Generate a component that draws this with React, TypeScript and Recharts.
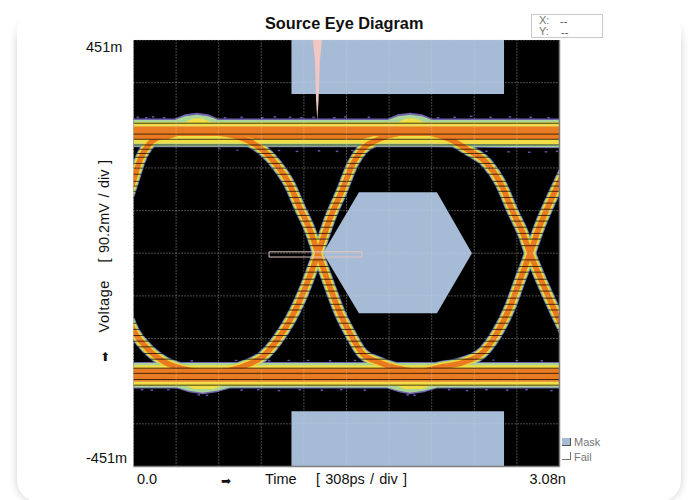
import React from 'react';
import { ComposedChart, Area, Line, Scatter, XAxis, YAxis, ReferenceLine, ReferenceArea } from 'recharts';

// time in ns, voltage in mV
const T_MAX = 3.08;
const V_MAX = 451;

const xTicks = [0, T_MAX];
const yTicks = [V_MAX, -V_MAX];
const gridT = [0, 0.308, 0.616, 0.924, 1.232, 1.54, 1.848, 2.156, 2.464, 2.772];
const gridV = [451, 360.8, 270.6, 180.4, 90.2, 0, -90.2, -180.4, -270.6, -360.8];

const traceA = [
  { t: -0.06, v: 101 }, { t: 0, v: 154 }, { t: 0.047, v: 197 }, { t: 0.119, v: 233 }, { t: 0.177, v: 245 }, { t: 0.3, v: 256 },
];
const traceB = [
  { t: 0.625, v: 254 }, { t: 0.792, v: 243 }, { t: 0.936, v: 218 }, { t: 1.038, v: 186 }, { t: 1.131, v: 144 }, { t: 1.204, v: 95 },
  { t: 1.276, v: 49 }, { t: 1.334, v: 0 }, { t: 1.421, v: -72 }, { t: 1.493, v: -127 }, { t: 1.565, v: -169 }, { t: 1.655, v: -212 },
  { t: 1.778, v: -231 }, { t: 1.876, v: -241 }, { t: 2.07, v: -252 },
];
const traceC = [
  { t: 0.625, v: -252 }, { t: 0.792, v: -239 }, { t: 0.936, v: -218 }, { t: 1.038, v: -184 }, { t: 1.131, v: -142 }, { t: 1.204, v: -99 }, { t: 1.29, v: -36 },
  { t: 1.334, v: 0 }, { t: 1.421, v: 74 }, { t: 1.508, v: 133 }, { t: 1.587, v: 190 }, { t: 1.655, v: 220 }, { t: 1.757, v: 239 }, { t: 1.927, v: 254 },
];
const traceD = [
  { t: -0.06, v: -121 }, { t: 0, v: -163 }, { t: 0.098, v: -201 }, { t: 0.213, v: -228 }, { t: 0.315, v: -241 }, { t: 0.48, v: -252 },
];
const traceE = [
  { t: 2.144, v: 254 }, { t: 2.303, v: 239 }, { t: 2.411, v: 220 }, { t: 2.556, v: 190 }, { t: 2.65, v: 150 }, { t: 2.744, v: 87 },
  { t: 2.816, v: 42 }, { t: 2.867, v: 0 }, { t: 2.917, v: -36 }, { t: 3.011, v: -99 }, { t: 3.12, v: -167 },
];
const traceF = [
  { t: 2.07, v: -252 }, { t: 2.216, v: -241 }, { t: 2.382, v: -231 }, { t: 2.527, v: -209 }, { t: 2.628, v: -169 }, { t: 2.722, v: -114 }, { t: 2.794, v: -57 },
  { t: 2.867, v: 0 }, { t: 2.939, v: 59 }, { t: 3.011, v: 108 }, { t: 3.12, v: 176 },
];
const traces = [traceA, traceB, traceC, traceD, traceE, traceF];

// top rail, outermost layer first
const topPurple = [
  { t: 0, range: [224, 285] }, { t: 0.3, range: [224, 285] }, { t: 0.372, range: [224, 294] }, { t: 0.459, range: [224, 297] },
  { t: 0.539, range: [224, 294] }, { t: 0.611, range: [224, 285] }, { t: 1.84, range: [224, 285] }, { t: 1.912, range: [224, 294] },
  { t: 2.0, range: [224, 297] }, { t: 2.086, range: [224, 294] }, { t: 2.158, range: [224, 285] }, { t: 3.08, range: [222, 285] },
];
const topGreen = [
  { t: 0, range: [226, 282] }, { t: 0.3, range: [226, 282] }, { t: 0.372, range: [226, 290] }, { t: 0.459, range: [226, 293] },
  { t: 0.539, range: [226, 290] }, { t: 0.611, range: [226, 282] }, { t: 1.84, range: [226, 282] }, { t: 1.912, range: [226, 290] },
  { t: 2.0, range: [226, 293] }, { t: 2.086, range: [226, 290] }, { t: 2.158, range: [226, 282] }, { t: 3.08, range: [224, 282] },
];
const topYellow = [
  { t: 0, range: [232, 277] }, { t: 0.372, range: [232, 277] }, { t: 0.43, range: [232, 285] }, { t: 0.5, range: [232, 285] },
  { t: 0.56, range: [232, 277] }, { t: 1.912, range: [232, 277] }, { t: 1.97, range: [232, 285] }, { t: 2.04, range: [232, 285] },
  { t: 2.1, range: [232, 277] }, { t: 3.08, range: [230, 277] },
];
const topOrange = [
  { t: 0, range: [241, 268] }, { t: 0.25, range: [241, 268] }, { t: 0.32, range: [248, 268] }, { t: 0.8, range: [248, 268] },
  { t: 0.88, range: [241, 268] }, { t: 1.65, range: [241, 268] }, { t: 1.74, range: [248, 268] }, { t: 2.22, range: [248, 268] },
  { t: 2.3, range: [241, 268] }, { t: 3.08, range: [241, 268] },
];

// bottom rail
const bottomPurple = [
  { t: 0, range: [-286, -230] }, { t: 0.315, range: [-286, -230] }, { t: 0.4, range: [-294, -230] }, { t: 0.5, range: [-298, -230] },
  { t: 0.6, range: [-294, -230] }, { t: 0.698, range: [-286, -230] }, { t: 1.833, range: [-286, -230] }, { t: 1.92, range: [-294, -230] },
  { t: 2.0, range: [-298, -230] }, { t: 2.1, range: [-294, -230] }, { t: 2.194, range: [-286, -230] }, { t: 3.08, range: [-286, -230] },
];
const bottomGreen = [
  { t: 0, range: [-284, -232] }, { t: 0.315, range: [-284, -232] }, { t: 0.4, range: [-291, -232] }, { t: 0.5, range: [-295, -232] },
  { t: 0.6, range: [-291, -232] }, { t: 0.698, range: [-284, -232] }, { t: 1.833, range: [-284, -232] }, { t: 1.92, range: [-291, -232] },
  { t: 2.0, range: [-295, -232] }, { t: 2.1, range: [-291, -232] }, { t: 2.194, range: [-284, -232] }, { t: 3.08, range: [-284, -232] },
];
const bottomYellow = [
  { t: 0, range: [-280, -237] }, { t: 0.38, range: [-280, -237] }, { t: 0.44, range: [-287, -237] }, { t: 0.58, range: [-287, -237] },
  { t: 0.64, range: [-280, -237] }, { t: 1.9, range: [-280, -237] }, { t: 1.96, range: [-287, -237] }, { t: 2.09, range: [-287, -237] },
  { t: 2.15, range: [-280, -237] }, { t: 3.08, range: [-280, -237] },
];
const bottomOrange = [
  { t: 0, range: [-272, -243] }, { t: 3.08, range: [-272, -243] },
];

// sampling noise round the rails
const specks = [
  { t: 0.03, v: 288 }, { t: 0.09, v: 287 }, { t: 0.14, v: 289 }, { t: 0.22, v: 287 }, { t: 0.66, v: 287 }, { t: 0.78, v: 288 },
  { t: 0.93, v: 287 }, { t: 1.02, v: 289 }, { t: 1.13, v: 288 }, { t: 1.21, v: 287 }, { t: 1.3, v: 288 }, { t: 1.45, v: 287 },
  { t: 1.53, v: 289 }, { t: 1.7, v: 288 }, { t: 2.2, v: 287 }, { t: 2.32, v: 288 }, { t: 2.44, v: 290 }, { t: 2.58, v: 288 },
  { t: 2.72, v: 289 }, { t: 2.87, v: 288 }, { t: 3.0, v: 287 },
  { t: 0.04, v: 220 }, { t: 0.62, v: 221 }, { t: 0.75, v: 219 }, { t: 1.05, v: 218 }, { t: 1.18, v: 216 }, { t: 1.34, v: 217 },
  { t: 1.47, v: 216 }, { t: 1.58, v: 218 }, { t: 2.42, v: 217 }, { t: 2.55, v: 216 }, { t: 2.71, v: 215 }, { t: 2.86, v: 214 },
  { t: 2.98, v: 215 }, { t: 3.06, v: 216 },
  { t: 0.42, v: -227 }, { t: 0.74, v: -226 }, { t: 0.85, v: -225 }, { t: 0.98, v: -227 }, { t: 1.12, v: -226 }, { t: 1.26, v: -226 },
  { t: 1.42, v: -227 }, { t: 1.6, v: -226 }, { t: 1.75, v: -225 }, { t: 2.45, v: -226 }, { t: 2.6, v: -225 }, { t: 2.77, v: -226 }, { t: 2.95, v: -227 },
  { t: 0.06, v: -288 }, { t: 0.13, v: -289 }, { t: 0.25, v: -288 }, { t: 0.78, v: -289 }, { t: 0.9, v: -288 }, { t: 1.05, v: -290 },
  { t: 1.2, v: -288 }, { t: 1.36, v: -289 }, { t: 1.5, v: -288 }, { t: 1.67, v: -289 }, { t: 2.28, v: -288 }, { t: 2.41, v: -290 },
  { t: 2.55, v: -288 }, { t: 2.7, v: -289 }, { t: 2.84, v: -288 }, { t: 3.02, v: -290 },
  { t: 0.47, v: -299 }, { t: 0.53, v: -300 }, { t: 1.98, v: -299 }, { t: 2.03, v: -300 },
];

// dark scan lines that run through the traces and rails
const scanV = [
  275, 252, 241, 229, 220, 211, 203, 190, 180, 167, 152, 142, 131, 118, 106, 93, 80, 68, 55, 42, 30, 16,
  -14, -28, -40, -55, -67, -80, -95, -108, -120, -135, -148, -161, -174, -186, -198, -212, -224, -243, -254, -267, -279,
];

const maskTop = [{ t: 1.142, range: [337, 451] }, { t: 2.679, range: [337, 451] }];
const maskBottom = [{ t: 1.142, range: [-451, -334] }, { t: 2.679, range: [-451, -334] }];
const maskHex = [
  { t: 1.37, range: [0, 0] }, { t: 1.63, range: [-127, 129] }, { t: 2.194, range: [-127, 129] }, { t: 2.447, range: [0, 0] },
];
const failSpike = [
  { t: 1.296, range: [451, 451] }, { t: 1.312, range: [408, 451] }, { t: 1.32, range: [323, 451] }, { t: 1.329, range: [281, 451] },
  { t: 1.338, range: [323, 451] }, { t: 1.348, range: [408, 451] }, { t: 1.363, range: [451, 451] },
];
const failBox = { t1: 0.98, t2: 1.652, v1: -8, v2: 3 };

const bandStyle: any = { stroke: 'none', fillOpacity: 1, dot: false, activeDot: false, isAnimationActive: false, type: 'linear', dataKey: 'range' };
const AXIS_FONT = { fontFamily: '"Liberation Sans", Arial, sans-serif', fontSize: 14.5, fill: '#111' };

function XTick({ x, y, payload }: any) {
  const isStart = payload.value === 0;
  return (
    <text x={isStart ? x + 3.5 : x - 30} y={y + 9.5} {...AXIS_FONT}>
      {isStart ? '0.0' : '3.08n'}
    </text>
  );
}

function YTick({ y, payload }: any) {
  const isTop = payload.value > 0;
  return (
    <text x={86} y={isTop ? y + 12 : y - 4} {...AXIS_FONT}>
      {isTop ? '451m' : '-451m'}
    </text>
  );
}

const font = '"Liberation Sans", Arial, sans-serif';
const abs = (left: number, top: number, extra: any = {}) => ({
  position: 'absolute' as const, left, top, fontFamily: font, whiteSpace: 'nowrap' as const, lineHeight: 1, ...extra,
});

export default function App() {
  return (
    <div style={{ position: 'absolute', left: 0, top: 0, width: 690, height: 500, overflow: 'hidden', background: '#fff' }}>
      <div style={{ position: 'absolute', left: 17, right: 9, top: 10, bottom: -2, background: '#fff', borderRadius: 22, boxShadow: '0 0 9px rgba(0,0,0,0.2)' }} />
      <div style={{ position: 'absolute', left: 0, right: 0, top: 0, height: 44, background: 'linear-gradient(#fff 45%, rgba(255,255,255,0))' }} />

      <div style={{ position: 'absolute', left: 0, top: 0 }}>
        <ComposedChart width={690} height={500} margin={{ top: 40, right: 130.5, bottom: 0, left: 0 }}>
          <XAxis
            type="number"
            dataKey="t"
            domain={[0, T_MAX]}
            ticks={xTicks}
            allowDataOverflow
            height={33.5}
            axisLine={false}
            tickLine={false}
            tick={<XTick />}
            interval={0}
          />
          <YAxis
            type="number"
            dataKey="v"
            domain={[-V_MAX, V_MAX]}
            ticks={yTicks}
            allowDataOverflow
            width={133.5}
            axisLine={false}
            tickLine={false}
            tick={<YTick />}
            interval={0}
          />
          <ReferenceArea x1={0} x2={T_MAX} y1={-V_MAX} y2={V_MAX} fill="#000" fillOpacity={1} stroke="none" zIndex={-50} />

          <Scatter
            data={specks}
            isAnimationActive={false}
            zIndex={90}
            shape={(p: any) => <rect x={p.cx - 1} y={p.cy - 0.5} width={2.5} height={1.5} fill="#6a50b0" />}
          />

          <Area {...bandStyle} data={topPurple} fill="#6f63ae" zIndex={110} />
          <Area {...bandStyle} data={bottomPurple} fill="#6f63ae" zIndex={110} />
          {traces.map((d, i) => (
            <Line key={`p${i}`} data={d} dataKey="v" type="monotone" stroke="#6f5fb0" strokeWidth={12} dot={false} activeDot={false} isAnimationActive={false} zIndex={111} />
          ))}
          <Area {...bandStyle} data={topGreen} fill="#a9d596" zIndex={120} />
          <Area {...bandStyle} data={bottomGreen} fill="#a9d596" zIndex={120} />
          {traces.map((d, i) => (
            <Line key={`g${i}`} data={d} dataKey="v" type="monotone" stroke="#93d08e" strokeWidth={10.5} dot={false} activeDot={false} isAnimationActive={false} zIndex={121} />
          ))}
          <Area {...bandStyle} data={topYellow} fill="#f1dd45" zIndex={130} />
          <Area {...bandStyle} data={bottomYellow} fill="#f1dd45" zIndex={130} />
          {traces.map((d, i) => (
            <Line key={`y${i}`} data={d} dataKey="v" type="monotone" stroke="#f2d63a" strokeWidth={8.5} dot={false} activeDot={false} isAnimationActive={false} zIndex={131} />
          ))}
          <Area {...bandStyle} data={topOrange} fill="#e97c22" zIndex={140} />
          <Area {...bandStyle} data={bottomOrange} fill="#e97c22" zIndex={140} />
          {traces.map((d, i) => (
            <Line key={`o${i}`} data={d} dataKey="v" type="monotone" stroke="#ea7a20" strokeWidth={5.5} dot={false} activeDot={false} isAnimationActive={false} zIndex={141} />
          ))}

          {scanV.map((v) => (
            <ReferenceLine key={`s${v}`} y={v} stroke="#000" strokeOpacity={0.7} strokeWidth={1} zIndex={150} />
          ))}

          <Area {...bandStyle} data={maskTop} fill="#a6bbd6" zIndex={160} />
          <Area {...bandStyle} data={maskBottom} fill="#a6bbd6" zIndex={160} />
          <Area {...bandStyle} data={maskHex} fill="#a6bbd6" zIndex={160} />
          <Area {...bandStyle} data={failSpike} fill="#f2c6c1" zIndex={165} />

          {gridT.map((t) => (
            <ReferenceLine key={`x${t}`} x={t} stroke="#cfcfcf" strokeOpacity={0.7} strokeDasharray="1 2" zIndex={170} />
          ))}
          {gridV.map((v) => (
            <ReferenceLine key={`h${v}`} y={v} stroke="#cfcfcf" strokeOpacity={0.7} strokeDasharray="1 2" zIndex={170} />
          ))}
          <ReferenceLine x={T_MAX} stroke="#808080" strokeWidth={1.5} zIndex={171} />
          <ReferenceLine y={-V_MAX} stroke="#808080" strokeWidth={1.5} zIndex={171} />
          <ReferenceArea x1={failBox.t1} x2={failBox.t2} y1={failBox.v1} y2={failBox.v2} fill="none" stroke="#e6c6be" strokeWidth={1} zIndex={180} />
        </ComposedChart>
      </div>

      <div style={abs(265, 15, { fontSize: 16.3, fontWeight: 700, color: '#111' })}>Source Eye Diagram</div>
      <div style={{ position: 'absolute', left: 531, top: 14, width: 70, height: 22, border: '1px solid #c9c9c9', boxSizing: 'content-box' }} />
      <div style={abs(539, 15, { fontSize: 11, color: '#777' })}>X:</div>
      <div style={abs(560, 16, { fontSize: 11, color: '#555' })}>--</div>
      <div style={abs(539, 26, { fontSize: 11, color: '#777' })}>Y:</div>
      <div style={abs(561, 27, { fontSize: 11, color: '#555' })}>--</div>

      <div style={abs(265, 472, { fontSize: 14.5, color: '#111' })}>Time</div>
      <div style={abs(316, 472, { fontSize: 14.5, color: '#111', wordSpacing: 1.2 })}>[ 308ps / div ]</div>
      <div style={abs(221, 475, { fontSize: 12, fontFamily: '"DejaVu Sans"', color: '#111' })}>➡</div>

      <div style={{ ...abs(104, 299, { fontSize: 14.5, color: '#111', letterSpacing: 0.6 }), transform: 'translate(-50%, 0) rotate(-90deg)' }}>Voltage</div>
      <div style={{ ...abs(104, 204, { fontSize: 14.5, color: '#111', wordSpacing: 1.5 }), transform: 'translate(-50%, 0) rotate(-90deg)' }}>[ 90.2mV / div ]</div>
      <div style={abs(100, 351, { fontSize: 12, fontFamily: '"DejaVu Sans"', color: '#111' })}>⬆</div>

      <div style={{ position: 'absolute', left: 562, top: 438, width: 8, height: 7, background: '#a6bbd6', borderRight: '1px solid #555', borderBottom: '1px solid #555' }} />
      <div style={abs(574, 437, { fontSize: 11, color: '#777' })}>Mask</div>
      <div style={{ position: 'absolute', left: 562, top: 452, width: 8, height: 7, background: '#fff', borderRight: '1px solid #777', borderBottom: '1px solid #777' }} />
      <div style={abs(574, 452, { fontSize: 11, color: '#777' })}>Fail</div>
    </div>
  );
}
